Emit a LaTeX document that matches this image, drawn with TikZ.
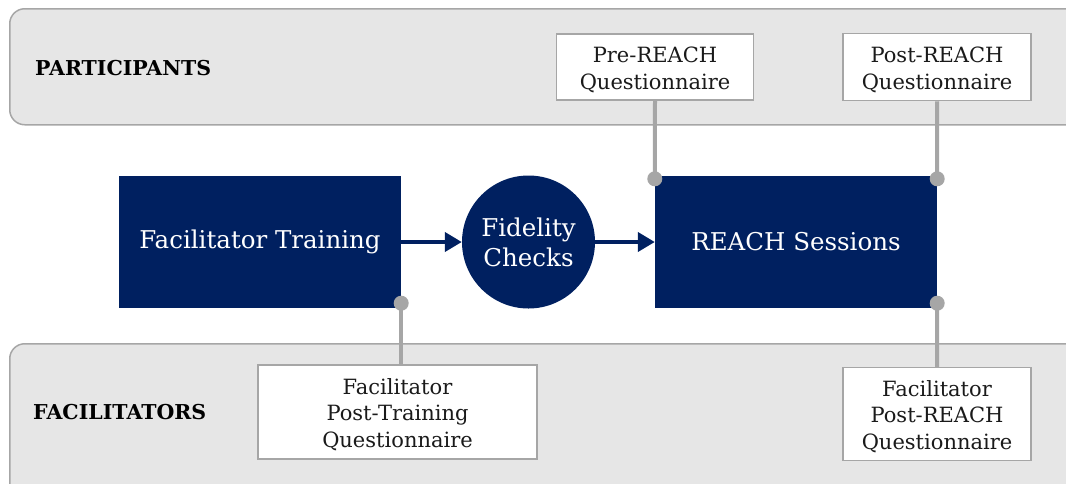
\documentclass[tikz,border=0pt]{standalone}
\usepackage{fontspec}
\setmainfont{DejaVu Serif}
\usetikzlibrary{arrows.meta}
\definecolor{navy}{HTML}{002060}
\definecolor{bandfill}{HTML}{E6E6E6}
\definecolor{edgegray}{HTML}{A6A6A6}
\definecolor{inktext}{HTML}{1A1A1A}
% a tall first-line strut that sets questionnaire text slightly lower
\newcommand\qstrut{\rule{0pt}{21pt}}
\begin{document}
\begin{tikzpicture}[x=1pt,y=-1pt,
  band/.style={draw=edgegray,line width=1.5pt,fill=bandfill,rounded corners=15pt,
    minimum width=1100pt,inner sep=0pt},
  bandlabel/.style={anchor=west,font=\bfseries\fontsize{20.5}{22}\selectfont,text=black,inner sep=0pt},
  navybox/.style={fill=navy,minimum width=282pt,minimum height=132pt,inner sep=0pt,
    text=white,font=\fontsize{24.5}{30}\selectfont,align=center},
  navycircle/.style={circle,fill=navy,minimum size=133pt,inner sep=0pt,
    text=white,font=\fontsize{24.5}{30}\selectfont,align=center},
  qbox/.style={draw=edgegray,line width=1.5pt,fill=white,inner sep=0pt,
    text=inktext,font=\fontsize{21}{26.5}\selectfont,align=center},
  flow/.style={draw=navy,line width=4pt,-{Triangle[length=17pt,width=19pt]}},
  link/.style={draw=edgegray,line width=4pt},
  knob/.style={fill=edgegray,circle,minimum size=15pt,inner sep=0pt}
]
\useasboundingbox (0,0) rectangle (1066,483);
\begin{scope}
\clip (0,0) rectangle (1066,483);
% participant and facilitator bands
\node[band,minimum height=116pt,anchor=north west] (partband) at (9,8) {};
\node[band,minimum height=160pt,anchor=north west] (facband) at (9,343) {};
\node[bandlabel] (partlabel) at (35,68) {PARTICIPANTS};
\node[bandlabel] (faclabel) at (33,412) {FACILITATORS};

% main flow
\node[navybox] (train) at (260,242) {Facilitator Training};
\node[navycircle] (fid) at (528.5,242) {Fidelity\\Checks};
\node[navybox] (sess) at (796,242) {REACH Sessions};

% questionnaires
\node[qbox,minimum width=197pt,minimum height=66pt] (pre) at (655,67) {\qstrut Pre-REACH\\Questionnaire};
\node[qbox,minimum width=188pt,minimum height=67pt] (post) at (937,67) {\qstrut Post-REACH\\Questionnaire};
\node[qbox,minimum width=279pt,minimum height=94pt] (fpt) at (397.5,412) {\qstrut Facilitator\\Post-Training\\Questionnaire};
\node[qbox,minimum width=188pt,minimum height=93pt] (fpr) at (937,414) {\qstrut Facilitator\\Post-REACH\\Questionnaire};

% attachment points on the flow boxes
\coordinate (preknob) at ([yshift=-3pt]sess.north west);
\coordinate (postknob) at ([yshift=-3pt]sess.north east);
\coordinate (trainknob) at ([yshift=5pt]train.south east);
\coordinate (sessknob) at ([yshift=5pt]sess.south east);

\draw[link] (pre.south) -- (preknob);
\draw[link] (post.south) -- (postknob);
\draw[link] (trainknob) -- (fpt.north -| trainknob);
\draw[link] (sessknob) -- (fpr.north);
\node[knob] (k1) at (preknob) {};
\node[knob] (k2) at (postknob) {};
\node[knob] (k3) at (trainknob) {};
\node[knob] (k4) at (sessknob) {};

\draw[flow] (train.east) -- (fid.west);
\draw[flow] (fid.east) -- (sess.west);
\end{scope}
\end{tikzpicture}
\end{document}
